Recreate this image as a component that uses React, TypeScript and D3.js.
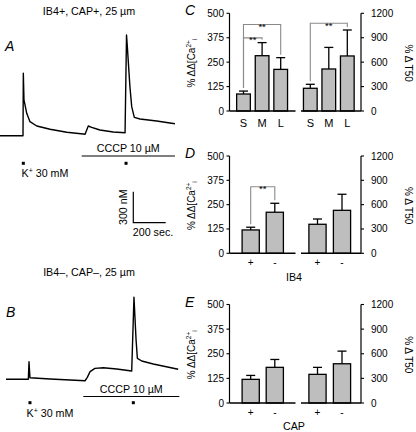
import React from 'react';
import * as d3 from 'd3';

const FONT = '"Liberation Sans", Arial, Helvetica, sans-serif';

// ---- Trace data: time (s) and [Ca2+]i (nM) ----
const traceATime = [0, 142, 144, 148, 165, 185, 227, 309, 412, 514, 525, 545, 566, 617, 699, 772, 781, 786, 802, 813, 829, 864, 967, 1080];
const traceAValue = [100, 100, 704, 446, 317, 236, 194, 162, 133, 116, 114, 194, 181, 155, 136, 129, 1075, 962, 574, 381, 278, 262, 242, 216];
const traceBTime = [37, 175, 179, 185, 309, 525, 539, 556, 586, 638, 720, 813, 827, 840, 848, 875, 946, 1100];
const traceBValue = [100, 100, 270, 115, 103, 86, 119, 174, 206, 212, 200, 180, 894, 480, 303, 277, 248, 197];

const cccpA = [504, 1080];
const cccpB = [514, 1107];
const kMarkA = 144;
const kMarkB = 185;
const cccpMarkA = 778;
const cccpMarkB = 823;
const scaleBarSec = 200;
const scaleBarNM = 300;

// ---- Bar data ----
const sizeCats = ['S', 'M', 'L'];
const sizeCaMean = [87, 283, 213];
const sizeCaSem = [15, 67, 60];
const sizeT50Mean = [279, 516, 676];
const sizeT50Sem = [49, 265, 319];

const ib4Cats = ['+', '-'];
const ib4CaMean = [120, 211];
const ib4CaSem = [14, 46];
const ib4T50Mean = [358, 530];
const ib4T50Sem = [65, 198];

const capCats = ['+', '-'];
const capCaMean = [120, 181];
const capCaSem = [20, 40];
const capT50Mean = [349, 478];
const capT50Sem = [85, 154];

const caTicks = [0, 125, 250, 375, 500];
const t50Ticks = [0, 300, 600, 900, 1200];

const sizeBrackets = [
  { group: 'ca', from: 'S', to: 'M', level: 374 },
  { group: 'ca', from: 'S', to: 'L', level: 443 },
  { group: 't50', from: 'S', to: 'L', level: 1077 },
];
const ib4Brackets = [{ group: 'ca', from: '+', to: '-', level: 342 }];
const capBrackets: any[] = [];

// ---- layout constants ----
const PX_PER_SEC = 0.162;
const PX_PER_NM = 0.1033;
const AX_L = 229.5;
const AX_R = 361;

function Trace({ times, values, y0, cccp, kMark, cccpMark, cccpLineY, markY, kTextX, kTextY, showScale }: any) {
  const x = d3.scaleLinear().domain([0, 1100]).range([0, 1100 * PX_PER_SEC]);
  const y = d3.scaleLinear().domain([100, 1100]).range([y0, y0 - 1000 * PX_PER_NM]);
  const pts = times.map((t: number, i: number) => [t, values[i]] as [number, number]);
  const line = d3.line<[number, number]>().x(d => x(d[0])).y(d => y(d[1]));
  const cx = (x(cccp[0]) + x(cccp[1])) / 2;
  return (
    <g>
      <path d={line(pts) || ''} fill="none" stroke="#000" strokeWidth={1.4} strokeLinejoin="round" />
      <line x1={x(cccp[0])} x2={x(cccp[1])} y1={cccpLineY} y2={cccpLineY} stroke="#000" strokeWidth={1} />
      <text x={cx} y={cccpLineY - 4} textAnchor="middle" fontSize={10.7} fontFamily={FONT}>CCCP 10 µM</text>
      <rect x={x(kMark) - 1.5} y={markY - 1.5} width={3} height={3} fill="#000" />
      <rect x={x(cccpMark) - 1.5} y={markY - 1.5} width={3} height={3} fill="#000" />
      <text x={kTextX} y={kTextY} fontSize={10.7} fontFamily={FONT}>
        K<tspan fontSize={7} dy={-4}>+</tspan><tspan dy={4}> 30 mM</tspan>
      </text>
      {showScale && (() => {
        const sx = 133.3;
        const sy = 222.7;
        const w = x(scaleBarSec) - x(0);
        const h = y(100) - y(100 + scaleBarNM);
        return (
          <g>
            <path d={`M${sx},${sy - h}V${sy}H${sx + w}`} fill="none" stroke="#000" strokeWidth={1.2} />
            <text transform={`translate(${sx - 6},${sy - h / 2}) rotate(-90)`} textAnchor="middle" fontSize={10.7} fontFamily={FONT}>{`${scaleBarNM} nM`}</text>
            <text x={sx - 0.5} y={sy + 13} fontSize={10.7} fontFamily={FONT}>{`${scaleBarSec} sec.`}</text>
          </g>
        );
      })()}
    </g>
  );
}

function BarPanel({ top, zero, cats, caMean, caSem, t50Mean, t50Sem, leftRange, rightRange, barW, brackets, letter, catSize, catY, xlabel, xlabelY }: any) {
  const yCa = d3.scaleLinear().domain([0, 500]).range([zero, top]);
  const yT = d3.scaleLinear().domain([0, 1200]).range([zero, top]);
  const xL = d3.scalePoint<string>().domain(cats).range(leftRange);
  const xR = d3.scalePoint<string>().domain(cats).range(rightRange);
  const cap = 9;
  const bars = (xs: any, ys: any, mean: number[], sem: number[]) =>
    cats.map((c: string, i: number) => {
      const cx = xs(c);
      const yt = ys(mean[i]);
      const ye = ys(mean[i] + sem[i]);
      return (
        <g key={c}>
          <line x1={cx} x2={cx} y1={yt} y2={ye} stroke="#000" strokeWidth={1.3} />
          <line x1={cx - cap / 2} x2={cx + cap / 2} y1={ye} y2={ye} stroke="#000" strokeWidth={1.3} />
          <rect x={cx - barW / 2} y={yt} width={barW} height={zero - yt} fill="#bebebe" stroke="#000" strokeWidth={1.3} />
        </g>
      );
    });
  const legBottom = (g: string, c: string) => {
    const i = cats.indexOf(c);
    if (g === 'ca') return yCa(caMean[i] + caSem[i]) - 3;
    return yT(t50Mean[i] + t50Sem[i]) - 3;
  };
  return (
    <g>
      {/* axes */}
      <line x1={AX_L} x2={AX_L} y1={top} y2={zero} stroke="#000" strokeWidth={1.2} />
      {caTicks.map(t => (
        <g key={'l' + t}>
          <line x1={AX_L - 3} x2={AX_L} y1={yCa(t)} y2={yCa(t)} stroke="#000" strokeWidth={1.1} />
          <text x={AX_L - 5.5} y={yCa(t)} dy="0.35em" textAnchor="end" fontSize={10} fontFamily={FONT}>{t}</text>
        </g>
      ))}
      <line x1={AX_R} x2={AX_R} y1={top} y2={zero} stroke="#000" strokeWidth={1.2} />
      {t50Ticks.map(t => (
        <g key={'r' + t}>
          <line x1={AX_R} x2={AX_R + 3} y1={yT(t)} y2={yT(t)} stroke="#000" strokeWidth={1.1} />
          <text x={AX_R + 10} y={yT(t)} dy="0.35em" textAnchor="start" fontSize={10} fontFamily={FONT}>{t}</text>
        </g>
      ))}
      {bars(xL, yCa, caMean, caSem)}
      {bars(xR, yT, t50Mean, t50Sem)}
      <line x1={AX_L} x2={295.5} y1={zero} y2={zero} stroke="#000" strokeWidth={1.5} />
      <line x1={301} x2={AX_R} y1={zero} y2={zero} stroke="#000" strokeWidth={1.5} />
      {/* category labels */}
      {cats.map((c: string) => (
        <g key={'c' + c}>
          <text x={xL(c)} y={catY} textAnchor="middle" fontSize={catSize} fontFamily={FONT}>{c}</text>
          <text x={xR(c)} y={catY} textAnchor="middle" fontSize={catSize} fontFamily={FONT}>{c}</text>
        </g>
      ))}
      {xlabel && <text x={294} y={xlabelY} textAnchor="middle" fontSize={10.7} fontFamily={FONT}>{xlabel}</text>}
      {/* brackets */}
      {brackets.map((b: any, i: number) => {
        const xs = b.group === 'ca' ? xL : xR;
        const ys = b.group === 'ca' ? yCa : yT;
        const x1 = xs(b.from);
        const x2 = xs(b.to);
        const yy = ys(b.level);
        return (
          <g key={'b' + i}>
            <path d={`M${x1},${legBottom(b.group, b.from)}V${yy}H${x2}V${legBottom(b.group, b.to)}`} fill="none" stroke="#8a8a8a" strokeWidth={1.1} />
            <text x={(x1 + x2) / 2} y={yy + 5.5} textAnchor="middle" fontSize={9.5} fontFamily={FONT}>**</text>
          </g>
        );
      })}
      {/* axis titles */}
      <text transform={`translate(195,${(top + zero) / 2 + 1}) rotate(-90)`} textAnchor="middle" fontSize={10} fontFamily={FONT}>
        % ΔΔ[Ca<tspan fontSize={6.5} dy={-4}>2+</tspan><tspan fontSize={6.5} dy={6}>i</tspan>
      </text>
      <text transform={`translate(404.5,${(top + zero) / 2 + 1}) rotate(90)`} textAnchor="middle" fontSize={10} fontFamily={FONT}>% Δ T50</text>
      <text x={185} y={top + 2} fontSize={14} fontStyle="italic" fontFamily={FONT}>{letter}</text>
    </g>
  );
}

export default function App() {
  return (
    <svg width={416} height={432} style={{ position: 'absolute', left: 0, top: 0, background: '#fff' }}>
      <rect width={416} height={432} fill="#fff" />
      <text x={89} y={15} textAnchor="middle" fontSize={10.7} fontFamily={FONT}>IB4+, CAP+, 25 µm</text>
      <text x={5} y={51} fontSize={14} fontStyle="italic" fontFamily={FONT}>A</text>
      <Trace times={traceATime} values={traceAValue} y0={135.7} cccp={cccpA} kMark={kMarkA} cccpMark={cccpMarkA}
        cccpLineY={156} markY={163.3} kTextX={21.5} kTextY={176.5} showScale={true} />
      <text x={89} y={276.3} textAnchor="middle" fontSize={10.7} fontFamily={FONT}>IB4–, CAP–, 25 µm</text>
      <text x={6} y={317} fontSize={14} fontStyle="italic" fontFamily={FONT}>B</text>
      <Trace times={traceBTime} values={traceBValue} y0={379.3} cccp={cccpB} kMark={kMarkB} cccpMark={cccpMarkB}
        cccpLineY={396.5} markY={402.7} kTextX={26.5} kTextY={416.5} showScale={false} />

      <BarPanel top={13.3} zero={111} cats={sizeCats} caMean={sizeCaMean} caSem={sizeCaSem} t50Mean={sizeT50Mean} t50Sem={sizeT50Sem}
        leftRange={[243.5, 280.7]} rightRange={[310.3, 347.3]} barW={13.7} brackets={sizeBrackets} letter="C"
        catSize={11} catY={127} xlabel={null} xlabelY={0} />
      <BarPanel top={156} zero={253.3} cats={ib4Cats} caMean={ib4CaMean} caSem={ib4CaSem} t50Mean={ib4T50Mean} t50Sem={ib4T50Sem}
        leftRange={[250.7, 274.8]} rightRange={[317.5, 342]} barW={17.2} brackets={ib4Brackets} letter="D"
        catSize={10} catY={266} xlabel="IB4" xlabelY={281} />
      <BarPanel top={304.5} zero={403} cats={capCats} caMean={capCaMean} caSem={capCaSem} t50Mean={capT50Mean} t50Sem={capT50Sem}
        leftRange={[250.7, 274.8]} rightRange={[317.5, 342]} barW={17.2} brackets={capBrackets} letter="E"
        catSize={10} catY={416} xlabel="CAP" xlabelY={430} />
    </svg>
  );
}
